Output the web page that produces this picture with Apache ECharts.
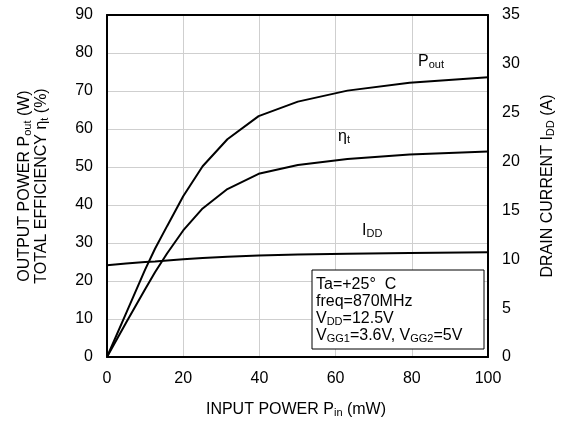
<!DOCTYPE html>
<html>
<head>
<meta charset="utf-8">
<script src="https://cdn.jsdelivr.net/npm/echarts@6/dist/echarts.min.js"></script>
<style>
  html, body { margin: 0; padding: 0; background: #fff; }
  #chart { width: 565px; height: 425px; }
</style>
</head>
<body>
<div id="chart"></div>
<script>
// input power steps (mW), 1 dB apart above 10 mW
const pin = [0, 5, 10, 12.6, 15.8, 20, 25.1, 31.6, 39.8, 50.1, 63.1, 79.4, 100]
const pout = [0, 11.5, 23, 28.5, 34.5, 42.3, 50.2, 57.3, 63.4, 67.2, 70.1, 72.2, 73.6]
const eta = [0, 9, 17.8, 22.3, 27.3, 33.3, 39.1, 44.2, 48.2, 50.5, 52.1, 53.3, 54.1]
const idd = [9.4, 9.57, 9.72, 9.78, 9.88, 10.0, 10.12, 10.25, 10.38, 10.48, 10.57, 10.65, 10.72]

const xTicks = [0, 20, 40, 60, 80, 100]
const leftTicks = [0, 90, 10]
const rightTicks = [0, 35, 5]

const FONT = 'Liberation Sans, Arial, sans-serif'
const chart = echarts.init(document.getElementById('chart'))

const pair = (ys) => pin.map((x, i) => [x, ys[i]])

const sub = { fontSize: 11, fontFamily: FONT, color: '#000', verticalAlign: 'bottom', padding: [6, 0, 0, 0] }
const base = { fontSize: 16, fontFamily: FONT, color: '#000' }

// light grid
const gridLine = { show: true, lineStyle: { color: '#cfcfcf', type: 'solid', width: 1 } }
const frame = { show: true, onZero: false, lineStyle: { color: '#000', width: 2 } }

const lineSeries = (name, ys, axis) => ({
  name,
  type: 'line',
  yAxisIndex: axis,
  data: pair(ys),
  showSymbol: false,
  symbol: 'none',
  lineStyle: { color: '#000', width: 2 },
  z: 5
})

const option = {
  animation: false,
  grid: { left: 107, right: 77, top: 15, bottom: 68 },
  xAxis: [
    {
      type: 'value',
      min: xTicks[0], max: xTicks[xTicks.length - 1], interval: 20,
      axisLine: frame,
      axisTick: { show: false },
      axisLabel: { ...base, margin: 14 },
      splitLine: gridLine
    },
    {
      // top edge of the frame only
      type: 'value', position: 'top',
      min: xTicks[0], max: xTicks[xTicks.length - 1], interval: 20,
      axisLine: frame,
      axisTick: { show: false },
      axisLabel: { show: false },
      splitLine: { show: false }
    }
  ],
  yAxis: [
    {
      type: 'value',
      min: leftTicks[0], max: leftTicks[1], interval: leftTicks[2],
      axisLine: frame,
      axisTick: { show: false },
      axisLabel: { ...base, margin: 14 },
      splitLine: gridLine
    },
    {
      type: 'value',
      min: rightTicks[0], max: rightTicks[1], interval: rightTicks[2],
      axisLine: frame,
      axisTick: { show: false },
      axisLabel: { ...base, margin: 14 },
      splitLine: { show: false }
    }
  ],
  series: [
    lineSeries('Pout', pout, 0),
    lineSeries('eta', eta, 0),
    lineSeries('IDD', idd, 1)
  ],
  graphic: [
    {
      type: 'text', x: 25, y: 186, rotation: Math.PI / 2,
      style: {
        text: '{a|OUTPUT POWER P}{s|out}{a| (W)}',
        align: 'center', verticalAlign: 'middle', rich: { a: base, s: sub }
      }
    },
    {
      type: 'text', x: 42, y: 186, rotation: Math.PI / 2,
      style: {
        text: '{a|TOTAL EFFICIENCY η}{s|t}{a| (%)}',
        align: 'center', verticalAlign: 'middle', rich: { a: base, s: sub }
      }
    },
    {
      type: 'text', x: 548, y: 186, rotation: Math.PI / 2,
      style: {
        text: '{a|DRAIN CURRENT I}{s|DD}{a| (A)}',
        align: 'center', verticalAlign: 'middle', rich: { a: base, s: sub }
      }
    },
    {
      type: 'text', x: 296, y: 410,
      style: {
        text: '{a|INPUT POWER P}{s|in}{a| (mW)}',
        align: 'center', verticalAlign: 'middle', rich: { a: base, s: sub }
      }
    },
    // curve names
    {
      type: 'text', x: 418, y: 62,
      style: { text: '{a|P}{s|out}', verticalAlign: 'middle', rich: { a: base, s: sub } }
    },
    {
      type: 'text', x: 338, y: 137,
      style: { text: '{a|η}{s|t}', verticalAlign: 'middle', rich: { a: base, s: sub } }
    },
    {
      type: 'text', x: 362, y: 231,
      style: { text: '{a|I}{s|DD}', verticalAlign: 'middle', rich: { a: base, s: sub } }
    },
    // conditions box
    {
      type: 'rect', z: 10,
      shape: { x: 312, y: 270, width: 172, height: 79 },
      style: { fill: '#fff', stroke: '#000', lineWidth: 1 }
    },
    {
      type: 'text', x: 316, y: 276, z: 11,
      style: {
        text: '{a|Ta=+25°  C}\n{a|freq=870MHz}\n{a|V}{s|DD}{a|=12.5V}\n{a|V}{s|GG1}{a|=3.6V, V}{s|GG2}{a|=5V}',
        rich: { a: { ...base, lineHeight: 17 }, s: { ...sub, lineHeight: 17 } }
      }
    }
  ]
}

chart.setOption(option)
</script>
</body>
</html>
